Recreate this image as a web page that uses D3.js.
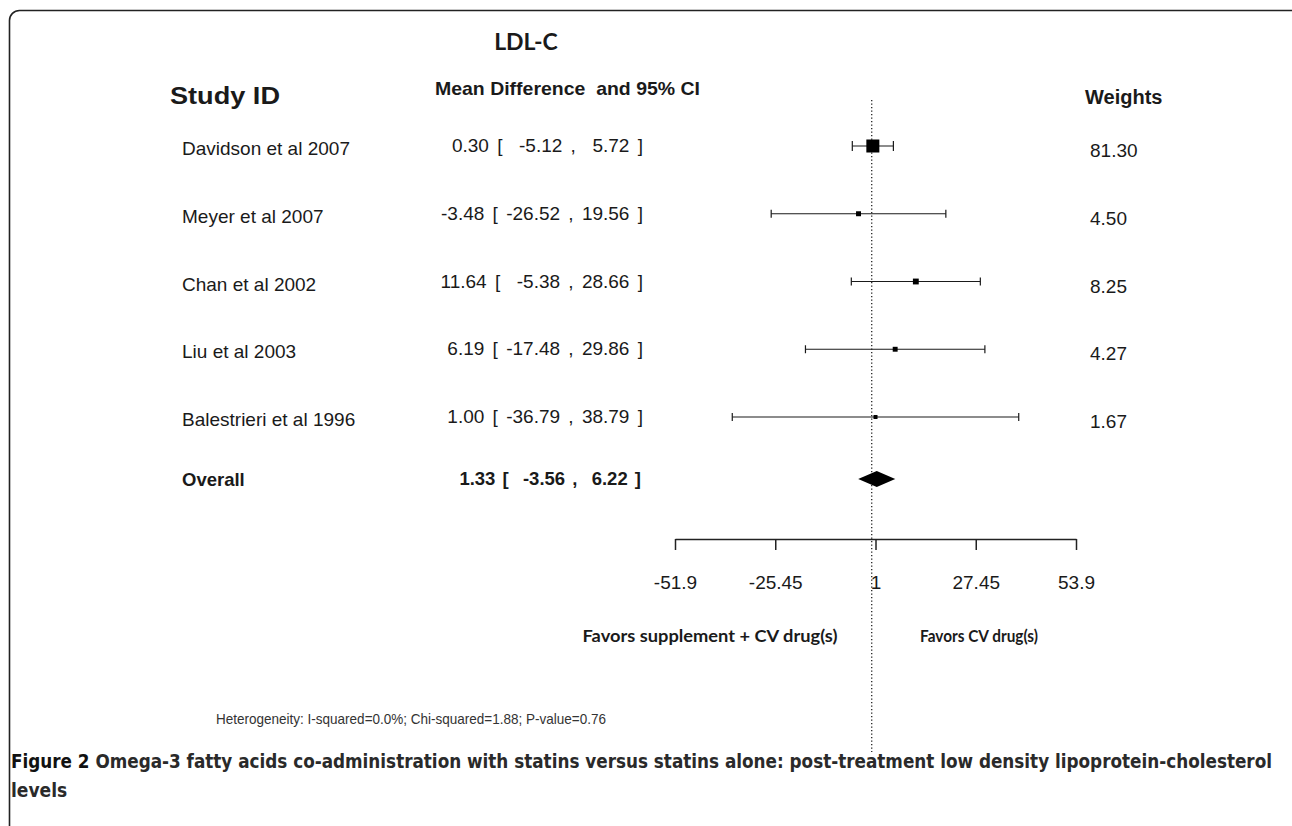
<!DOCTYPE html>
<html>
<head>
<meta charset="utf-8">
<script src="https://cdn.jsdelivr.net/npm/d3@7"></script>
<style>
  html, body { margin: 0; padding: 0; background: #fff; }
  text { white-space: pre; }
</style>
</head>
<body>
<div id="chart"></div>
<script>
// LDL-C forest plot — mean difference and 95% CI per study

const studies = ['Davidson et al 2007', 'Meyer et al 2007', 'Chan et al 2002', 'Liu et al 2003', 'Balestrieri et al 1996'];
const means = [0.30, -3.48, 11.64, 6.19, 1.00];
const lower = [-5.12, -26.52, -5.38, -17.48, -36.79];
const upper = [5.72, 19.56, 28.66, 29.86, 38.79];
const weights = [81.30, 4.50, 8.25, 4.27, 1.67];
const ciLabels = ['0.30 [  -5.12 ,  5.72 ]', '-3.48 [ -26.52 , 19.56 ]', '11.64 [  -5.38 , 28.66 ]',
                  '6.19 [ -17.48 , 29.86 ]', '1.00 [ -36.79 , 38.79 ]'];
const overall = { label: 'Overall', mean: 1.33, lower: -3.56, upper: 6.22, text: '1.33 [  -3.56 ,  6.22 ]' };
const tickValues = [-51.9, -25.45, 1, 27.45, 53.9];
const tickLabels = ['-51.9', '-25.45', '1', '27.45', '53.9'];

const W = 1292, H = 826;
const sans = '"Liberation Sans", Arial, sans-serif';
const calib = 'Lato, "Open Sans", sans-serif';
const narrow = '"Liberation Sans Narrow", "DejaVu Sans Condensed", sans-serif';
const ink = '#1a1a1a';

const svg = d3.select('#chart').append('svg')
  .attr('width', W).attr('height', H);

// outer rounded frame (runs off the right and bottom edge)
svg.append('rect')
  .attr('x', 9.5).attr('y', 10.5).attr('width', 1300).attr('height', 840)
  .attr('rx', 10).attr('fill', 'none').attr('stroke', '#222').attr('stroke-width', 1.6);

const x = d3.scaleLinear().domain([-51.9, 53.9]).range([675, 1076]);
const y = d3.scalePoint().domain(studies).range([146, 417]);
const overallY = y(studies[studies.length - 1]) + 62;
const boxSize = d3.scaleSqrt().domain([0, d3.max(weights)]).range([2.5, 13]);

// titles
svg.append('text').attr('x', 526).attr('y', 50).attr('text-anchor', 'middle')
  .attr('font-family', calib).attr('font-weight', 'bold').attr('font-size', 23)
  .attr('fill', ink).text('LDL-C');
svg.append('text').attr('x', 170).attr('y', 104)
  .attr('font-family', sans).attr('font-weight', 'bold').attr('font-size', 24)
  .attr('textLength', 110).attr('lengthAdjust', 'spacingAndGlyphs')
  .attr('fill', ink).text('Study ID');
svg.append('text').attr('x', 435).attr('y', 95)
  .attr('font-family', sans).attr('font-weight', 'bold').attr('font-size', 19)
  .attr('textLength', 265).attr('lengthAdjust', 'spacingAndGlyphs')
  .attr('fill', ink).text('Mean Difference  and 95% CI');
svg.append('text').attr('x', 1085).attr('y', 104)
  .attr('font-family', sans).attr('font-weight', 'bold').attr('font-size', 20)
  .attr('fill', ink).text('Weights');

// zero reference line
svg.append('line')
  .attr('x1', x(0)).attr('x2', x(0)).attr('y1', 100).attr('y2', 752)
  .attr('stroke', '#222').attr('stroke-width', 1.3).attr('stroke-dasharray', '1.3,2.2');

// study rows
const rows = svg.append('g');
studies.forEach((s, i) => {
  const yy = y(s);
  rows.append('text').attr('x', 182).attr('y', yy + 9)
    .attr('font-family', sans).attr('font-size', 19).attr('fill', ink).text(s);
  rows.append('text').attr('x', 643).attr('y', yy + 6).attr('text-anchor', 'end')
    .attr('font-family', sans).attr('font-size', 19).attr('word-spacing', 3)
    .attr('fill', ink).text(ciLabels[i]);
  rows.append('text').attr('x', 1090).attr('y', yy + 11)
    .attr('font-family', sans).attr('font-size', 19).attr('fill', ink).text(weights[i].toFixed(2));

  const cap = i === 0 ? 10 : 8;
  rows.append('line').attr('x1', x(lower[i])).attr('x2', x(upper[i])).attr('y1', yy).attr('y2', yy)
    .attr('stroke', ink).attr('stroke-width', 1.2);
  [lower[i], upper[i]].forEach(v => {
    rows.append('line').attr('x1', x(v)).attr('x2', x(v)).attr('y1', yy - cap / 2).attr('y2', yy + cap / 2)
      .attr('stroke', ink).attr('stroke-width', 1.2);
  });
  const b = boxSize(weights[i]);
  rows.append('rect').attr('x', x(means[i]) - b / 2).attr('y', yy - b / 2)
    .attr('width', b).attr('height', b).attr('fill', '#000');
});

// overall
svg.append('text').attr('x', 182).attr('y', overallY + 7)
  .attr('font-family', sans).attr('font-weight', 'bold').attr('font-size', 18.5)
  .attr('fill', ink).text(overall.label);
svg.append('text').attr('x', 641).attr('y', overallY + 6).attr('text-anchor', 'end')
  .attr('font-family', sans).attr('font-weight', 'bold').attr('font-size', 18.5)
  .attr('word-spacing', 2).attr('fill', ink).text(overall.text);
svg.append('path')
  .attr('d', `M${x(overall.lower)},${overallY} L${x(overall.mean)},${overallY - 8} L${x(overall.upper)},${overallY} L${x(overall.mean)},${overallY + 8} Z`)
  .attr('fill', '#000');

// x axis
const axis = d3.axisBottom(x)
  .tickValues(tickValues)
  .tickFormat((d, i) => tickLabels[i])
  .tickSize(11).tickSizeOuter(0).tickPadding(26);
const ax = svg.append('g').attr('transform', 'translate(0,539)').call(axis);
ax.select('.domain').attr('stroke', '#222').attr('stroke-width', 1.5);
ax.selectAll('.tick line').attr('stroke', '#222').attr('stroke-width', 1.5);
ax.selectAll('.tick text').attr('font-family', sans).attr('font-size', 19).attr('fill', ink);

// favours labels
svg.append('text').attr('x', 710).attr('y', 642).attr('text-anchor', 'middle')
  .attr('font-family', calib).attr('font-weight', 'bold').attr('font-size', 17)
  .attr('textLength', 255).attr('lengthAdjust', 'spacingAndGlyphs')
  .attr('fill', ink).text('Favors supplement + CV drug(s)');
svg.append('text').attr('x', 979).attr('y', 642).attr('text-anchor', 'middle')
  .attr('font-family', calib).attr('font-weight', 'bold').attr('font-size', 17)
  .attr('textLength', 118).attr('lengthAdjust', 'spacingAndGlyphs')
  .attr('fill', ink).text('Favors CV drug(s)');

// heterogeneity
svg.append('text').attr('x', 216).attr('y', 724)
  .attr('font-family', sans).attr('font-size', 15)
  .attr('textLength', 390).attr('lengthAdjust', 'spacingAndGlyphs')
  .attr('fill', '#333').text('Heterogeneity: I-squared=0.0%; Chi-squared=1.88; P-value=0.76');

// figure caption
const cap1 = svg.append('text').attr('x', 11).attr('y', 768)
  .attr('font-family', narrow).attr('font-size', 19).attr('fill', '#111')
  .attr('textLength', 1261).attr('lengthAdjust', 'spacingAndGlyphs');
cap1.append('tspan').attr('font-weight', 'bold').text('Figure 2 ');
cap1.append('tspan').attr('font-weight', 'bold').attr('fill', '#2a2a2a')
  .text('Omega-3 fatty acids co-administration with statins versus statins alone: post-treatment low density lipoprotein-cholesterol');
svg.append('text').attr('x', 11).attr('y', 797)
  .attr('font-family', narrow).attr('font-size', 19).attr('font-weight', 'bold')
  .attr('fill', '#2a2a2a').text('levels');
</script>
</body>
</html>
